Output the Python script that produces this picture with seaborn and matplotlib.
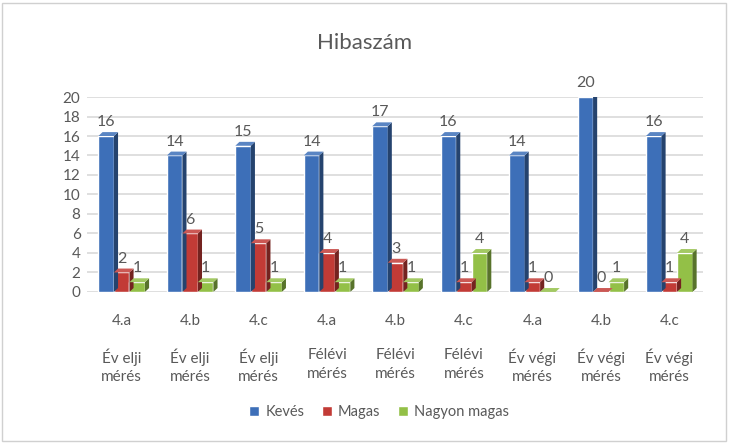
import pandas as pd
import matplotlib.pyplot as plt
import seaborn as sns
from matplotlib.patches import Polygon
from matplotlib.colors import to_rgb

groups = ["4.a", "4.b", "4.c", "4.a", "4.b", "4.c", "4.a", "4.b", "4.c"]
periods = ["Év elji\nmérés", "Év elji\nmérés", "Év elji\nmérés",
           "Félévi\nmérés", "Félévi\nmérés", "Félévi\nmérés",
           "Év végi\nmérés", "Év végi\nmérés", "Év végi\nmérés"]
keves = [16, 14, 15, 14, 17, 16, 14, 20, 16]
magas = [2, 6, 5, 4, 3, 1, 1, 0, 1]
nagyon = [1, 1, 1, 1, 1, 4, 0, 1, 4]
series = ["Kevés", "Magas", "Nagyon magas"]
colors = ["#3D6FB8", "#C23B36", "#93C047"]

keys = [f"{i}" for i in range(len(groups))]
df = pd.DataFrame({
    "key": keys * 3,
    "series": [series[0]] * 9 + [series[1]] * 9 + [series[2]] * 9,
    "value": keves + magas + nagyon,
})

sns.set_theme(style="white")
plt.rcParams["font.family"] = ["Lato", "DejaVu Sans"]
txt = "#595959"

fig = plt.figure(figsize=(7.29, 4.43), dpi=100)
ax = fig.add_axes([0.12, 0.341, 0.845, 0.44])
sns.barplot(data=df, x="key", y="value", hue="series", palette=colors,
            width=0.68, saturation=1, ax=ax, legend=True, zorder=3)

# fake 3d faces from the drawn bars
dx, dy = 0.06, 0.4
for container, c in zip(ax.containers, colors):
    rgb = to_rgb(c)
    dark = tuple(v * 0.6 for v in rgb)
    light = tuple(min(1, v * 0.85 + 0.15) for v in rgb)
    for p in container:
        x0, w, h = p.get_x(), p.get_width(), p.get_height()
        x1 = x0 + w
        ax.add_patch(Polygon([(x1, 0), (x1 + dx, dy), (x1 + dx, h + dy), (x1, h)],
                             closed=True, facecolor=dark, edgecolor="none", zorder=3))
        ax.add_patch(Polygon([(x0, h), (x1, h), (x1 + dx, h + dy), (x0 + dx, h + dy)],
                             closed=True, facecolor=light, edgecolor="none", zorder=3))
    ax.bar_label(container, padding=5, color=txt, fontsize=11.5)

ax.set_ylim(0, 20)
ax.set_xlim(-0.5, len(groups) - 0.5)
ax.set_yticks(range(0, 21, 2))
ax.yaxis.grid(True, color="#D9D9D9", linewidth=1.2, zorder=0)
ax.set_axisbelow(True)
for s in ax.spines.values():
    s.set_visible(False)
ax.tick_params(axis="y", colors=txt, labelsize=11, length=0, pad=5)
ax.tick_params(axis="x", colors=txt, labelsize=11, length=0, pad=16)
ax.set_xticks(range(len(groups)))
ax.set_xticklabels(groups)
ax.set_xlabel("")
ax.set_ylabel("")

trans = ax.get_xaxis_transform()
for i, p in enumerate(periods):
    ax.text(i, -0.29, p, transform=trans, ha="center", va="top",
            color=txt, fontsize=11, linespacing=1.4)

fig.suptitle("Hibaszám", fontsize=16, color=txt, x=0.5, y=0.925)

ax.get_legend().remove()
handles, labels = ax.get_legend_handles_labels()
leg = fig.legend(handles, labels, loc="upper center", bbox_to_anchor=(0.52, 0.115), ncol=3,
                 frameon=False, fontsize=10.5, handlelength=0.7, handleheight=0.7,
                 handletextpad=0.4, columnspacing=1.2)
for t in leg.get_texts():
    t.set_color(txt)

fig.patches.append(plt.Rectangle((0.003, 0.004), 0.993, 0.99, transform=fig.transFigure,
                                 fill=False, edgecolor="#D0D0D0", linewidth=1))
fig.savefig("out.png", dpi=100)
